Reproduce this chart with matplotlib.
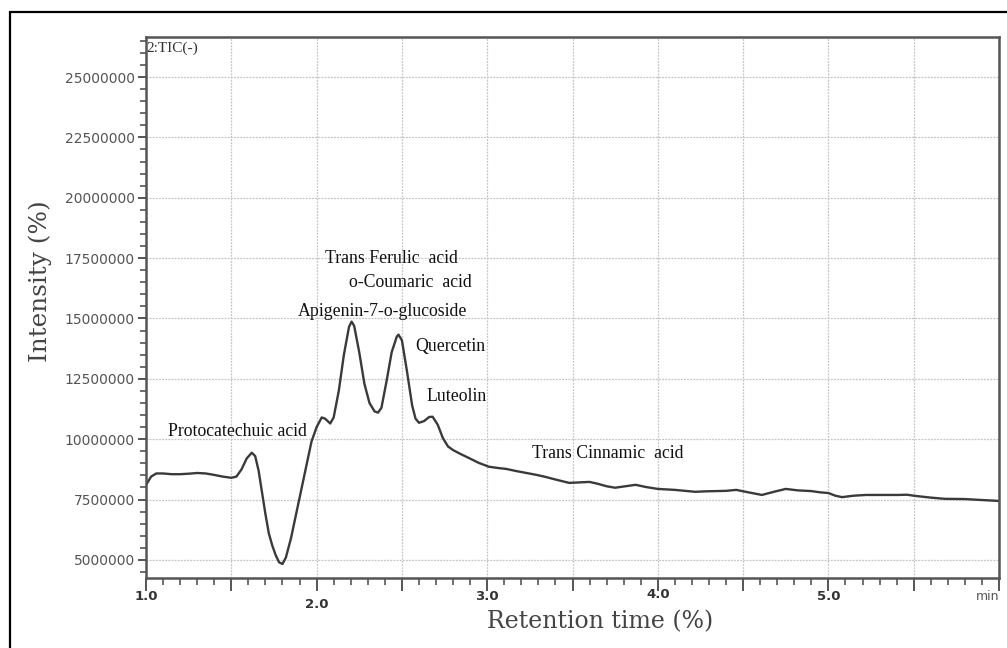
import matplotlib
matplotlib.use("Agg")
import matplotlib.pyplot as plt
from matplotlib.patches import Rectangle
from matplotlib.ticker import MultipleLocator, FuncFormatter

# retention time (min) and intensity
temps = [1.00, 1.03, 1.06, 1.10, 1.15, 1.20, 1.25, 1.30, 1.35, 1.40, 1.45, 1.50,
         1.53, 1.56, 1.59, 1.62, 1.64, 1.66, 1.68, 1.70, 1.72, 1.74, 1.76, 1.78,
         1.80, 1.82, 1.85, 1.88, 1.91, 1.94, 1.97, 2.00, 2.03, 2.05, 2.08, 2.10,
         2.13, 2.16, 2.19, 2.205, 2.22, 2.25, 2.28, 2.31, 2.34, 2.36, 2.38, 2.41,
         2.44, 2.47, 2.48, 2.50, 2.53, 2.56, 2.58, 2.60, 2.63, 2.66, 2.68, 2.71,
         2.74, 2.77, 2.80, 2.84, 2.89, 2.95, 3.01, 3.07, 3.11, 3.17, 3.23, 3.29,
         3.34, 3.40, 3.48, 3.54, 3.60, 3.65, 3.70, 3.75, 3.81, 3.87, 3.93, 4.00,
         4.10, 4.16, 4.22, 4.28, 4.34, 4.40, 4.46, 4.53, 4.61, 4.68, 4.75, 4.82,
         4.90, 4.95, 5.00, 5.04, 5.08, 5.15, 5.22, 5.31, 5.41, 5.46, 5.51, 5.60,
         5.68, 5.80, 5.90, 5.98, 6.00]
intensite_m = [8.10, 8.45, 8.58, 8.58, 8.55, 8.55, 8.57, 8.60, 8.58, 8.52, 8.45, 8.40,
               8.45, 8.75, 9.20, 9.44, 9.30, 8.70, 7.80, 6.90, 6.10, 5.60, 5.20, 4.90,
               4.83, 5.10, 5.90, 6.90, 7.90, 8.90, 9.90, 10.50, 10.90, 10.85, 10.65, 10.90,
               12.00, 13.50, 14.65, 14.87, 14.70, 13.60, 12.30, 11.50, 11.15, 11.10, 11.30, 12.40,
               13.60, 14.25, 14.33, 14.10, 12.80, 11.40, 10.85, 10.68, 10.75, 10.92, 10.93, 10.60,
               10.05, 9.70, 9.55, 9.40, 9.23, 9.02, 8.86, 8.80, 8.77, 8.68, 8.60, 8.52,
               8.44, 8.33, 8.19, 8.21, 8.23, 8.15, 8.05, 7.99, 8.05, 8.11, 8.02, 7.94,
               7.90, 7.86, 7.82, 7.84, 7.85, 7.86, 7.90, 7.80, 7.69, 7.82, 7.94, 7.88,
               7.85, 7.80, 7.77, 7.66, 7.60, 7.66, 7.69, 7.69, 7.69, 7.70, 7.65, 7.58,
               7.53, 7.52, 7.48, 7.45, 7.44]
intensite = [v * 1e6 for v in intensite_m]

composes = ["Protocatechuic acid", "Trans Ferulic  acid", "o-Coumaric  acid",
            "Apigenin-7-o-glucoside", "Quercetin", "Luteolin", "Trans Cinnamic  acid"]
comp_x = [1.13, 2.05, 2.19, 1.89, 2.58, 2.645, 3.26]
comp_y = [10.31e6, 17.48e6, 16.48e6, 15.28e6, 13.83e6, 11.76e6, 9.39e6]

x_ticks = [1.0, 2.0, 3.0, 4.0, 5.0]

gris = "#555555"

fig = plt.figure(figsize=(10.07, 6.48), dpi=100)
fig.patches.append(Rectangle((10 / 1007, -0.05), 1.2, 1 - 12 / 648 + 0.05,
                             transform=fig.transFigure, fill=False,
                             edgecolor="black", linewidth=1.6))

ax = fig.add_axes([146 / 1007, 1 - 578 / 648, (999 - 146) / 1007, (578 - 37) / 648])
ax.plot(temps, intensite, color="#3a3a3a", linewidth=1.7)

ax.set_xlim(1.0, 6.0)
ax.set_ylim(4.25e6, 26.66e6)

ax.xaxis.set_major_locator(MultipleLocator(0.5))
ax.xaxis.set_minor_locator(MultipleLocator(0.1))
ax.yaxis.set_major_locator(MultipleLocator(2.5e6))
ax.yaxis.set_minor_locator(MultipleLocator(0.5e6))
ax.set_xticklabels([])
ax.yaxis.set_major_formatter(FuncFormatter(lambda v, p: "%d" % v))

ax.grid(True, which="major", color="#c4c4c4", linestyle=(0, (1.5, 1)), linewidth=0.9)
ax.tick_params(axis="y", which="major", length=6, width=1.4, color=gris,
               labelsize=10, labelcolor=gris, pad=2)
ax.tick_params(axis="y", which="minor", length=4, width=1.2, color=gris)
ax.tick_params(axis="x", which="major", length=9, width=1.4, color=gris)
ax.tick_params(axis="x", which="minor", length=5, width=1.2, color=gris)
for s in ax.spines.values():
    s.set_color(gris)
    s.set_linewidth(1.8)

# x tick labels, staggered as in the instrument printout (pixels below the axis)
lab_off = [19, 26, 19, 17, 19]
h_ax = 578 - 37
xt = ax.get_xaxis_transform()
for i in range(len(x_ticks)):
    ax.text(x_ticks[i], -lab_off[i] / h_ax, "%.1f" % x_ticks[i], transform=xt,
            ha="center", va="center", fontsize=9.5, fontweight="bold",
            color="#333333", family="DejaVu Sans")
ax.text(6.0, -18 / h_ax, "min", transform=xt, ha="right", va="center",
        fontsize=9, color=gris)

ax.text(1.005, 26.2e6, "2:TIC(-)", ha="left", va="center", fontsize=11,
        family="Liberation Serif", color="#333333")

for i in range(len(composes)):
    ax.text(comp_x[i], comp_y[i], composes[i], ha="left", va="center",
            fontsize=12.8, family="Liberation Serif", color="#111111")

fig.text(600 / 1007, 1 - 622 / 648, "Retention time (%)", ha="center", va="center",
         fontsize=17, family="DejaVu Serif", color="#444444")
fig.text(40 / 1007, 1 - 281 / 648, "Intensity (%)", ha="center", va="center",
         rotation=90, fontsize=17.8, family="DejaVu Serif", color="#444444")

fig.savefig("out.png", dpi=100)
